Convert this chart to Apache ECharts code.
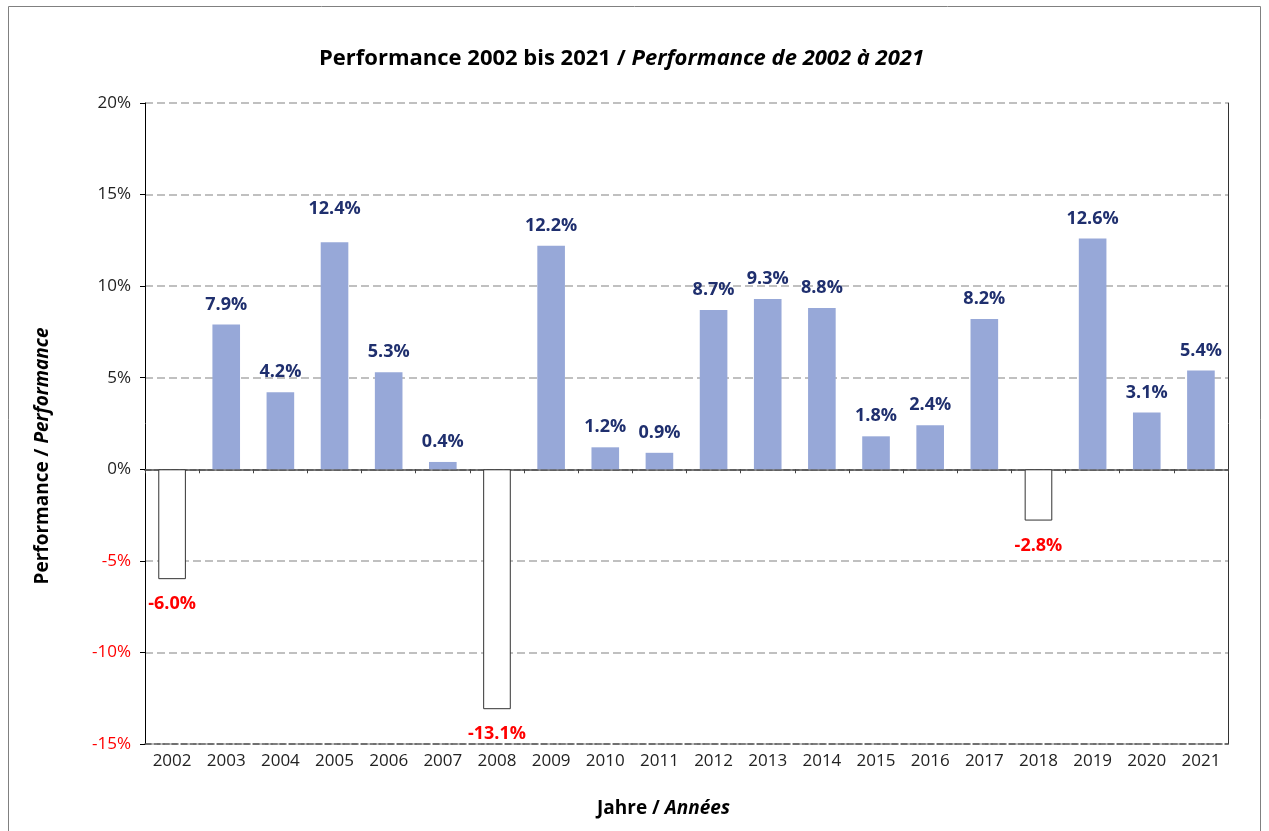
<!DOCTYPE html>
<html><head><meta charset="utf-8">
<script src="https://cdn.jsdelivr.net/npm/echarts@6/dist/echarts.min.js"></script>
<style>html,body{margin:0;padding:0;background:#fff}#c{width:1269px;height:831px}</style>
</head><body><div id="c"></div>
<script>
const years = ['2002','2003','2004','2005','2006','2007','2008','2009','2010','2011','2012','2013','2014','2015','2016','2017','2018','2019','2020','2021'];
const performance = [-6.0, 7.9, 4.2, 12.4, 5.3, 0.4, -13.1, 12.2, 1.2, 0.9, 8.7, 9.3, 8.8, 1.8, 2.4, 8.2, -2.8, 12.6, 3.1, 5.4];
const yTicks = [-15, -10, -5, 0, 5, 10, 15, 20];

const FONT = 'Open Sans';
const chart = echarts.init(document.getElementById('c'), null, {renderer: 'canvas'});

const data = performance.map((v, i) => {
  const pos = v >= 0;
  return {
    value: v,
    itemStyle: pos ? {color: '#97a8d8', borderWidth: 0}
                   : {color: '#ffffff', borderColor: '#333333', borderWidth: 1},
    label: {
      show: true,
      position: pos ? 'top' : 'bottom',
      distance: pos ? (years[i] === '2005' ? 24 : 11) : 16,
      formatter: v.toFixed(1) + '%',
      color: pos ? '#1f2f6e' : '#ff0000',
      fontWeight: 'bold',
      fontSize: 18,
      fontFamily: FONT
    }
  };
});

chart.setOption({
  animation: false,
  backgroundColor: '#ffffff',
  title: {
    left: 314, top: 43,
    text: '{b|Performance 2002 bis 2021 / }{i|Performance de 2002 à 2021}',
    textStyle: {
      rich: {
        b: {fontFamily: FONT, fontWeight: 'bold', fontSize: 22, color: '#000'},
        i: {fontFamily: FONT, fontWeight: 'bold', fontStyle: 'italic', fontSize: 22, color: '#000'}
      }
    }
  },
  graphic: [
    {type: 'rect', shape: {x: 8.5, y: 6.5, width: 1252, height: 840}, style: {fill: 'none', stroke: '#808080', lineWidth: 1}, silent: true},
    {type: 'text', left: 597, top: 799, style: {text: '{b|Jahre / }{i|Années}', rich: {
      b: {fontFamily: FONT, fontWeight: 'bold', fontSize: 19, fill: '#000'},
      i: {fontFamily: FONT, fontWeight: 'bold', fontStyle: 'italic', fontSize: 19, fill: '#000'}}}},
    {type: 'text', x: 43, y: 456, rotation: Math.PI / 2, style: {text: '{b|Performance / }{i|Performance}',
      align: 'center', verticalAlign: 'middle', rich: {
      b: {fontFamily: FONT, fontWeight: 'bold', fontSize: 19, fill: '#000'},
      i: {fontFamily: FONT, fontWeight: 'bold', fontStyle: 'italic', fontSize: 19, fill: '#000'}}}}
  ],
  grid: {left: 145, right: 41, top: 103, bottom: 87},
  xAxis: [
    {
      type: 'category', data: years, position: 'bottom',
      axisLine: {onZero: false, show: true, lineStyle: {color: '#555', type: [6, 3], width: 1.5}},
      axisTick: {show: false},
      axisLabel: {color: '#222', fontSize: 17, fontFamily: FONT, margin: 9},
      splitLine: {show: false}
    },
    {
      type: 'category', data: years, position: 'bottom',
      axisLine: {onZero: true, show: true, lineStyle: {color: '#666', width: 1.5}},
      axisTick: {show: true, length: 4, lineStyle: {color: '#444'}},
      axisLabel: {show: false}
    },
    {
      type: 'category', data: years, position: 'top',
      axisLine: {show: true, lineStyle: {color: '#555', type: [6, 3], width: 1.5}},
      axisTick: {show: false}, axisLabel: {show: false}
    }
  ],
  yAxis: [
    {
      type: 'value', min: yTicks[0], max: yTicks[yTicks.length - 1], interval: 5,
      axisLine: {show: true, lineStyle: {color: '#000', width: 1}},
      axisTick: {show: true, length: 5, lineStyle: {color: '#000'}},
      axisLabel: {
        fontSize: 17, fontFamily: FONT, margin: 14,
        formatter: v => v + '%',
        color: v => (v < 0 ? '#ff0000' : '#222')
      },
      splitLine: {show: true, lineStyle: {color: '#c0c0c0', type: [8, 4], width: 2}}
    },
    {
      type: 'value', min: yTicks[0], max: yTicks[yTicks.length - 1], interval: 5, position: 'right',
      axisLine: {show: true, lineStyle: {color: '#333', width: 1}},
      axisTick: {show: false}, axisLabel: {show: false}, splitLine: {show: false}
    }
  ],
  series: [{
    type: 'bar', data: data, xAxisIndex: 0, yAxisIndex: 0, barWidth: '51%', z: 3
  }]
});
</script></body></html>
